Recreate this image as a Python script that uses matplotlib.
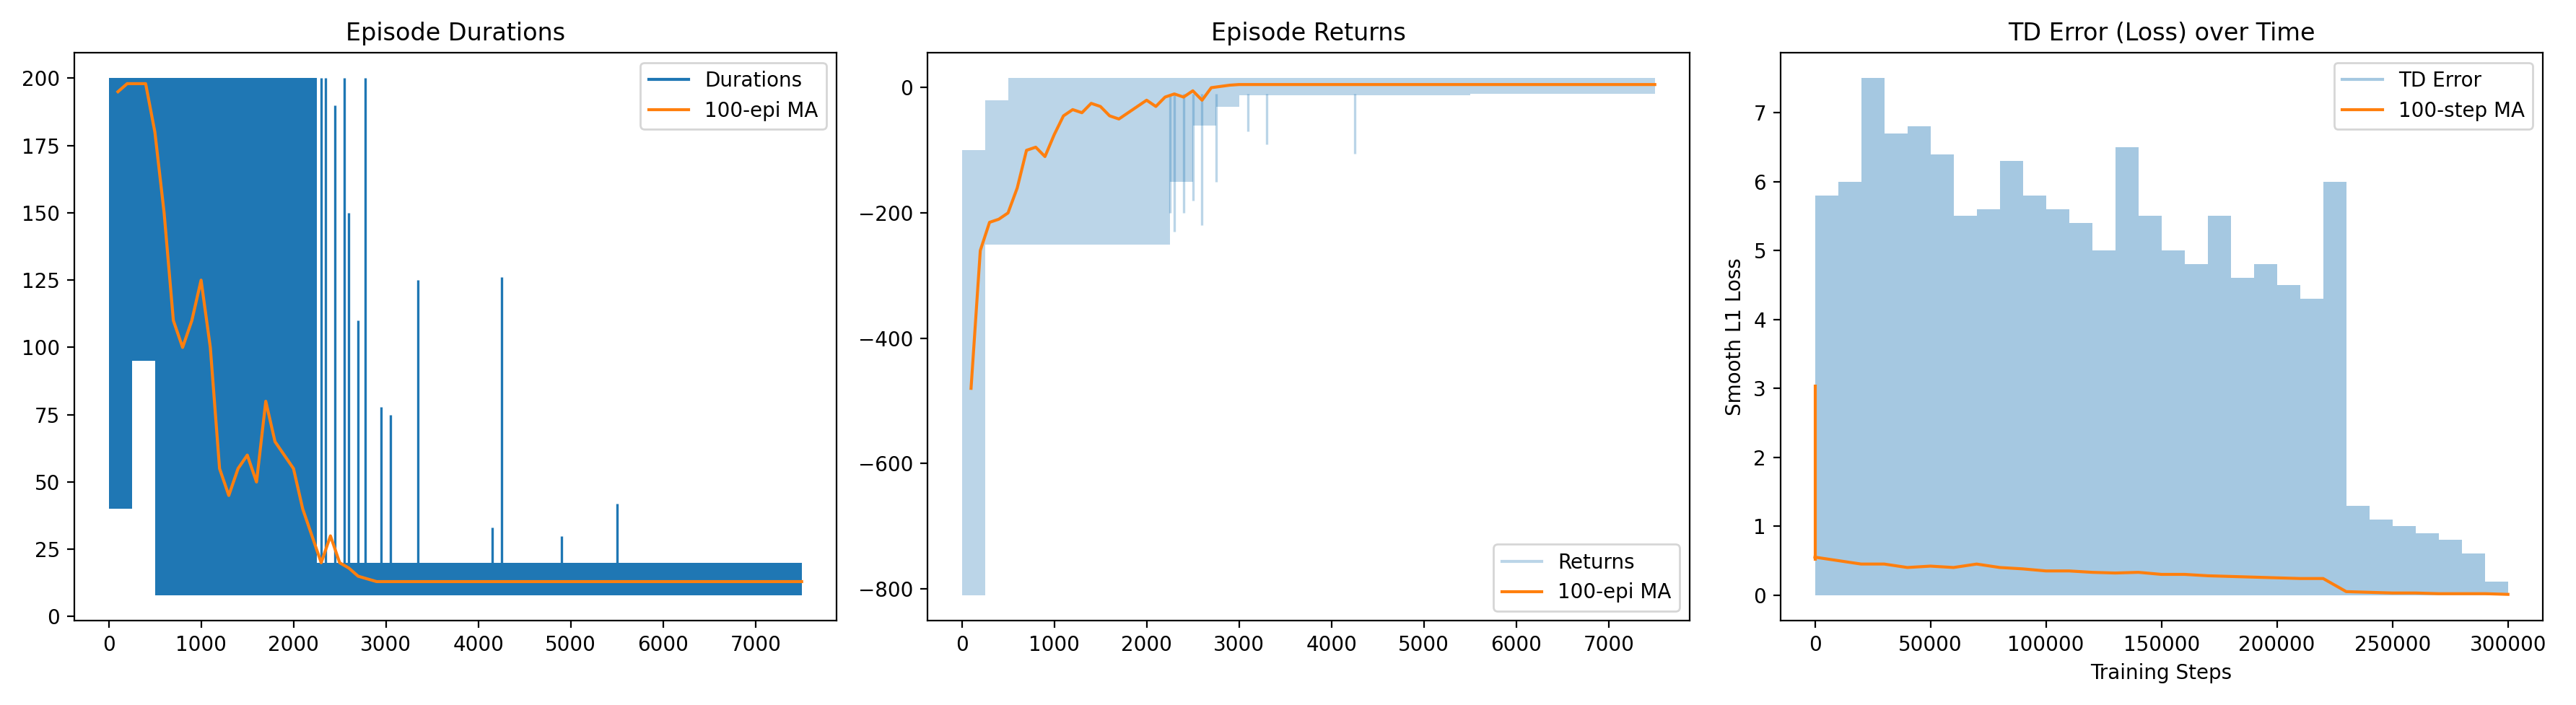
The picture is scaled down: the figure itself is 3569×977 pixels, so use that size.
import matplotlib
matplotlib.use("Agg")
import matplotlib.pyplot as plt
from matplotlib.lines import Line2D

# Durations: envelope per 250-episode bin (low, high), bins start at 0, 250, ..., 7500
dur_bin_x = list(range(0, 7750, 250))
dur_low = [40, 95, 8, 8, 8, 8, 8, 8, 8, 8, 8, 8, 8, 8, 8, 8, 8, 8, 8, 8, 8, 8, 8, 8, 8, 8, 8, 8, 8, 8, 8]
dur_high = [200, 200, 200, 200, 200, 200, 200, 200, 200, 20, 20, 20, 20, 20, 20, 20, 20, 20, 20, 20, 20, 20,
            20, 20, 20, 20, 20, 20, 20, 20, 20]
dur_spike_x = [2200, 2300, 2350, 2450, 2550, 2600, 2700, 2780, 2950, 3050, 3350, 4150, 4250, 4900, 5500]
dur_spike_y = [200, 200, 200, 190, 200, 150, 110, 200, 78, 75, 125, 33, 126, 30, 42]
dur_ma_x = list(range(100, 7600, 100))
dur_ma = [195, 198, 198, 198, 180, 150, 110, 100, 110, 125, 100, 55, 45, 55, 60, 50, 80, 65, 60, 55,
          40, 30, 20, 30, 20, 18, 15, 14] + [13] * 47

# Returns envelope per 250-episode bin
ret_low = [-810, -250, -250, -250, -250, -250, -250, -250, -250, -150, -60, -30, -12, -12, -12, -12,
           -12, -12, -12, -12, -12, -12, -10, -10, -10, -10, -10, -10, -10, -10, -10]
ret_high = [-100, -20, 15, 15, 15, 15, 15, 15, 15, 15, 15, 15, 15, 15, 15, 15, 15, 15, 15, 15, 15, 15,
            15, 15, 15, 15, 15, 15, 15, 15, 15]
ret_spike_x = [2250, 2300, 2400, 2500, 2600, 2750, 3100, 3300, 4250]
ret_spike_y = [-200, -230, -200, -180, -220, -150, -70, -90, -105]
ret_ma = [-480, -260, -215, -210, -200, -160, -100, -95, -110, -75, -45, -35, -40, -25, -30, -45, -50, -40,
          -30, -20, -30, -15, -10, -15, -5, -20, 0, 2, 4] + [5] * 46

# TD error envelope per 10000-step bin
td_bin_x = list(range(0, 310000, 10000))
td_high = [5.8, 6.0, 7.5, 6.7, 6.8, 6.4, 5.5, 5.6, 6.3, 5.8, 5.6, 5.4, 5.0, 6.5, 5.5, 5.0, 4.8, 5.5, 4.6,
           4.8, 4.5, 4.3, 6.0, 1.3, 1.1, 1.0, 0.9, 0.8, 0.6, 0.2, 0.1]
td_low = [0.0] * 31
td_ma = [0.55, 0.5, 0.45, 0.45, 0.4, 0.42, 0.4, 0.45, 0.4, 0.38, 0.35, 0.35, 0.33, 0.32, 0.33, 0.3, 0.3,
         0.28, 0.27, 0.26, 0.25, 0.24, 0.24, 0.05, 0.04, 0.03, 0.03, 0.02, 0.02, 0.02, 0.01]

blue = "#1f77b4"
orange = "#ff7f0e"

fig, axes = plt.subplots(1, 3, figsize=(17.845, 4.885), dpi=200)

ax = axes[0]
ax.fill_between(dur_bin_x, dur_low, dur_high, step="post", color=blue, lw=0)
ax.vlines(dur_spike_x, 10, dur_spike_y, color=blue, lw=1.2)
ax.plot(dur_ma_x, dur_ma, color=orange, lw=1.5)
ax.set_title("Episode Durations")
ax.legend([Line2D([], [], color=blue), Line2D([], [], color=orange)], ["Durations", "100-epi MA"], loc="upper right")
ax.set_xlim(-375, 7875)

ax = axes[1]
ax.fill_between(dur_bin_x, ret_low, ret_high, step="post", color=blue, alpha=0.3, lw=0)
ax.vlines(ret_spike_x, -10, ret_spike_y, color=blue, alpha=0.3, lw=1.2)
ax.plot(dur_ma_x, ret_ma, color=orange, lw=1.5)
ax.set_title("Episode Returns")
ax.legend([Line2D([], [], color=blue, alpha=0.3), Line2D([], [], color=orange)], ["Returns", "100-epi MA"], loc="lower right")
ax.set_xlim(-375, 7875)

ax = axes[2]
ax.fill_between(td_bin_x, td_low, td_high, step="post", color=blue, alpha=0.4, lw=0)
ax.plot(td_bin_x, td_ma, color=orange, lw=1.5)
ax.vlines([0], 0.5, 3.05, color=orange, lw=1.5)
ax.set_title("TD Error (Loss) over Time")
ax.set_xlabel("Training Steps")
ax.set_ylabel("Smooth L1 Loss")
ax.legend([Line2D([], [], color=blue, alpha=0.4), Line2D([], [], color=orange)], ["TD Error", "100-step MA"], loc="upper right")
ax.set_xlim(-15000, 315000)

fig.tight_layout()
fig.savefig("out.png", dpi=200)
